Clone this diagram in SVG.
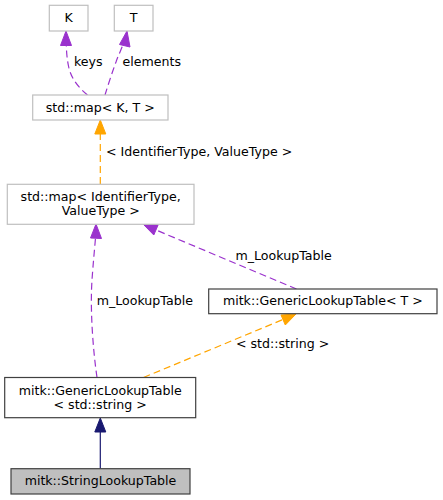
<svg xmlns="http://www.w3.org/2000/svg" width="443" height="500" viewBox="0 0 443 500">
<style>
  text { font-family: "DejaVu Sans", "Liberation Sans", sans-serif; font-size: 12.6px; fill: #000000; }
  .n text { text-anchor: middle; }
  .ext rect { fill: #ffffff; stroke: #bfbfbf; stroke-width: 1.2; }
  .int rect { fill: #ffffff; stroke: #404040; stroke-width: 1.2; }
  .cur rect { fill: #bfbfbf; stroke: #404040; stroke-width: 1.2; }
  .e { fill: none; stroke-width: 1.2; }
  .p { stroke: #9a32cd; stroke-dasharray: 7,4; }
  .o { stroke: #ffa500; stroke-dasharray: 7,4; }
  .b { stroke: #191970; }
  .ph { fill: #9a32cd; stroke: #9a32cd; }
  .oh { fill: #ffa500; stroke: #ffa500; }
  .bh { fill: #191970; stroke: #191970; }
</style>
<rect width="443" height="500" fill="#ffffff"/>
<g id="edges">
  <path class="e p" d="M87.5,95 C79,88 71,79 68.5,66 C67,59 66.5,52 66.3,45"/>
  <polygon class="ph" points="66,31 60.5,45.5 71.5,45.5"/>
  <path class="e p" d="M105,95 C108,85 112,73 116,62 C118,56 121,50 122.5,46"/>
  <polygon class="ph" points="127,31 119.5,44.5 130,47"/>
  <path class="e o" d="M100.3,184 L100.3,134"/>
  <polygon class="oh" points="100.3,120 94.8,134 105.8,134"/>
  <path class="e p" d="M296.5,289 L156,230"/>
  <polygon class="ph" points="143,224 153.8,235 158.1,224.9"/>
  <path class="e p" d="M97,377.5 C93,350 90,310 92,280 C93,265 94.5,250 95.5,238"/>
  <polygon class="ph" points="96,224 90.5,238 101.5,238.5"/>
  <path class="e o" d="M143.5,377.5 L283,319.5"/>
  <polygon class="oh" points="296,314 281,315 285.3,325"/>
  <path class="e b" d="M100.3,468.5 L100.3,432"/>
  <polygon class="bh" points="100.3,418 94.8,432 105.8,432"/>
  <text x="74" y="66">keys</text>
  <text x="122.5" y="66">elements</text>
  <text x="106" y="156">&lt; IdentifierType, ValueType &gt;</text>
  <text x="235.5" y="259.5">m_LookupTable</text>
  <text x="96.7" y="304.5">m_LookupTable</text>
  <text x="236" y="348">&lt; std::string &gt;</text>
</g>
<g id="node-K" class="n ext">
  <rect x="49.3" y="5.3" width="38.7" height="25.7"/>
  <text x="68.7" y="21.5">K</text>
</g>
<g id="node-T" class="n ext">
  <rect x="114.3" y="5.3" width="38.7" height="25.7"/>
  <text x="133.7" y="21.5">T</text>
</g>
<g id="node-mapKT" class="n ext">
  <rect x="32.7" y="95" width="135.3" height="25"/>
  <text x="100.3" y="111.5">std::map&lt; K, T &gt;</text>
</g>
<g id="node-mapId" class="n ext">
  <rect x="7.3" y="184.3" width="186.7" height="40"/>
  <text x="100.7" y="201">std::map&lt; IdentifierType,</text>
  <text x="100.7" y="215">ValueType &gt;</text>
</g>
<g id="node-GLT-T" class="n int">
  <rect x="208.7" y="289" width="228.3" height="24.7"/>
  <text x="322.8" y="305">mitk::GenericLookupTable&lt; T &gt;</text>
</g>
<g id="node-GLT-string" class="n int">
  <rect x="4.7" y="377.5" width="191" height="40.2"/>
  <text x="100.2" y="394.5">mitk::GenericLookupTable</text>
  <text x="100.2" y="408.5">&lt; std::string &gt;</text>
</g>
<g id="node-StringLookupTable" class="n cur">
  <rect x="11" y="468.7" width="179" height="25.3"/>
  <text x="100.5" y="485">mitk::StringLookupTable</text>
</g>
</svg>
